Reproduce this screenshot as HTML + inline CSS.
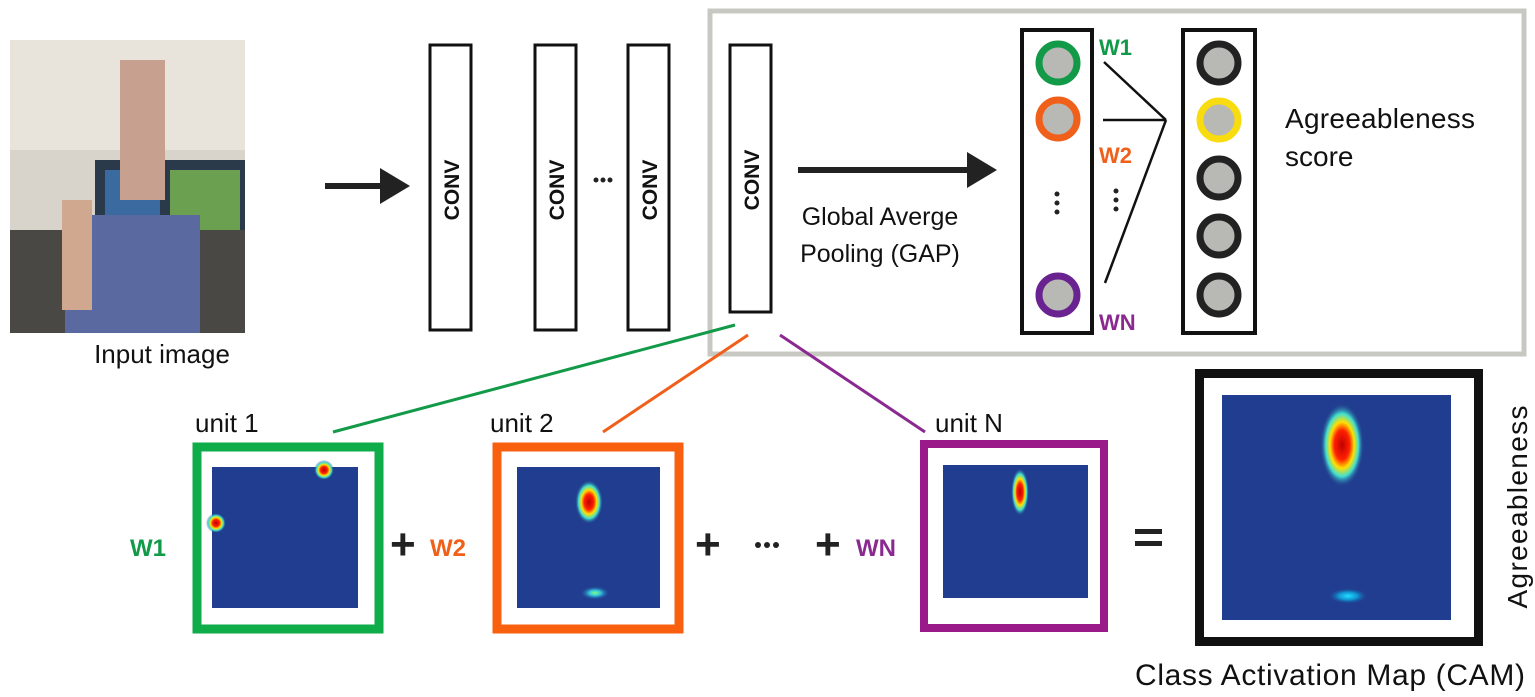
<!DOCTYPE html>
<html><head><meta charset="utf-8"><style>body{margin:0;background:#fff}svg{display:block}text{font-family:"Liberation Sans",sans-serif}</style></head><body>
<svg width="1535" height="697" viewBox="0 0 1535 697" xmlns="http://www.w3.org/2000/svg">
<defs>
<radialGradient id="hot"><stop offset="0" stop-color="#c00000"/><stop offset="0.35" stop-color="#ff2000"/><stop offset="0.55" stop-color="#ffe000"/><stop offset="0.75" stop-color="#40e0d0"/><stop offset="1" stop-color="#213d8f" stop-opacity="0"/></radialGradient>
<radialGradient id="cool"><stop offset="0" stop-color="#80ff80"/><stop offset="0.4" stop-color="#30c0e0"/><stop offset="1" stop-color="#213d8f" stop-opacity="0"/></radialGradient>
<radialGradient id="cyan"><stop offset="0" stop-color="#20e0ff"/><stop offset="0.5" stop-color="#1090d0"/><stop offset="1" stop-color="#213d8f" stop-opacity="0"/></radialGradient>
<marker id="ah" markerWidth="6" markerHeight="6" refX="3" refY="3" orient="auto" markerUnits="strokeWidth"><path d="M0,0 L5,3 L0,6z" fill="#222"/></marker>
</defs>
<!-- photo -->
<rect x="10" y="40" width="235" height="293" fill="#d8d4cc"/>
<rect x="10" y="40" width="235" height="110" fill="#e8e4dc"/>
<rect x="95" y="160" width="150" height="80" fill="#2a3a4a"/>
<rect x="170" y="170" width="70" height="60" fill="#6aa050"/>
<rect x="105" y="170" width="55" height="55" fill="#3a6aa0"/>
<rect x="10" y="230" width="235" height="103" fill="#4a4844"/>
<rect x="65" y="215" width="135" height="118" fill="#5a6aa0"/>
<rect x="120" y="60" width="45" height="140" fill="#c8a090"/>
<rect x="62" y="200" width="30" height="110" fill="#d0a890"/>
<text x="162" y="363" font-size="26" text-anchor="middle" fill="#111">Input image</text>
<line x1="325" y1="186" x2="398" y2="186" stroke="#222" stroke-width="6" marker-end="url(#ah)"/>
<!-- conv -->
<g fill="none" stroke="#111" stroke-width="3">
<rect x="430" y="45" width="41" height="285"/><rect x="535" y="45" width="41" height="285"/><rect x="628" y="45" width="41" height="285"/><rect x="730" y="45" width="41" height="267"/>
</g>
<g font-size="21" style="font-weight:700" fill="#111" text-anchor="middle">
<text transform="translate(459,190) rotate(-90)">CONV</text>
<text transform="translate(564,190) rotate(-90)">CONV</text>
<text transform="translate(657,190) rotate(-90)">CONV</text>
<text transform="translate(759,180) rotate(-90)">CONV</text>
</g>
<g fill="#222"><circle cx="596" cy="180" r="2.5"/><circle cx="603" cy="180" r="2.5"/><circle cx="610" cy="180" r="2.5"/></g>
<!-- gray box -->
<rect x="710" y="11" width="814" height="343" fill="none" stroke="#c8c8c2" stroke-width="5"/>
<line x1="798" y1="170" x2="985" y2="170" stroke="#222" stroke-width="6" marker-end="url(#ah)"/>
<text x="880" y="225" font-size="25" text-anchor="middle" fill="#111">Global Averge</text>
<text x="880" y="262" font-size="25" text-anchor="middle" fill="#111">Pooling (GAP)</text>
<rect x="1022" y="30" width="70" height="303" fill="none" stroke="#111" stroke-width="4"/>
<rect x="1183" y="30" width="72" height="303" fill="none" stroke="#111" stroke-width="4"/>
<g stroke-width="7" fill="#b8b8b4">
<circle cx="1058" cy="63" r="19" stroke="#129a48"/><circle cx="1058" cy="119" r="19" stroke="#f0601a"/><circle cx="1058" cy="295" r="19" stroke="#6a2290"/>
<circle cx="1219" cy="63" r="19" stroke="#222"/><circle cx="1219" cy="120" r="19" stroke="#f8dc10"/><circle cx="1219" cy="178" r="19" stroke="#222"/><circle cx="1219" cy="236" r="19" stroke="#222"/><circle cx="1219" cy="295" r="19" stroke="#222"/>
</g>
<g fill="#222"><circle cx="1057" cy="194" r="2.5"/><circle cx="1057" cy="203" r="2.5"/><circle cx="1057" cy="212" r="2.5"/><circle cx="1116" cy="191" r="2.5"/><circle cx="1116" cy="200" r="2.5"/><circle cx="1116" cy="209" r="2.5"/></g>
<g stroke="#111" stroke-width="2.5"><line x1="1104" y1="62" x2="1166" y2="120"/><line x1="1103" y1="120" x2="1166" y2="120"/><line x1="1105" y1="283" x2="1166" y2="120"/></g>
<g font-size="22" style="font-weight:700"><text x="1099" y="55" fill="#129a48">W1</text><text x="1099" y="163" fill="#f0601a">W2</text><text x="1099" y="330" fill="#8a2a90">WN</text></g>
<text x="1285" y="128" font-size="28" fill="#111" textLength="190">Agreeableness</text>
<text x="1285" y="166" font-size="28" fill="#111">score</text>
<!-- connectors -->
<line x1="735" y1="325" x2="333" y2="432" stroke="#129a48" stroke-width="3"/>
<line x1="748" y1="335" x2="603" y2="432" stroke="#f0601a" stroke-width="3"/>
<line x1="780" y1="335" x2="925" y2="432" stroke="#8a2a90" stroke-width="3"/>
<!-- units -->
<g font-size="26" fill="#111"><text x="195" y="432">unit 1</text><text x="490" y="432">unit 2</text><text x="935" y="432">unit N</text></g>
<rect x="197" y="447" width="182" height="182" fill="none" stroke="#0ead4a" stroke-width="9"/>
<rect x="212" y="467" width="146" height="141" fill="#213d8f"/>
<circle cx="324" cy="470" r="10" fill="url(#hot)"/><circle cx="216" cy="523" r="10" fill="url(#hot)"/>
<rect x="497" y="447" width="182" height="182" fill="none" stroke="#f86010" stroke-width="9"/>
<rect x="517" y="467" width="143" height="141" fill="#213d8f"/>
<ellipse cx="589" cy="502" rx="14" ry="22" fill="url(#hot)"/><ellipse cx="595" cy="593" rx="15" ry="7" fill="url(#cool)"/>
<rect x="924" y="444" width="180" height="184" fill="none" stroke="#9a1a8a" stroke-width="8"/>
<rect x="943" y="465" width="145" height="133" fill="#213d8f"/>
<ellipse cx="1020" cy="492" rx="9" ry="24" fill="url(#hot)"/>
<!-- CAM -->
<rect x="1199.5" y="373.5" width="279" height="268" fill="none" stroke="#111" stroke-width="9"/>
<rect x="1222" y="395" width="229" height="225" fill="#213d8f"/>
<ellipse cx="1342" cy="445" rx="22" ry="42" fill="url(#hot)"/><ellipse cx="1348" cy="596" rx="20" ry="8" fill="url(#cyan)"/>
<g style="font-weight:700" fill="#222">
<text x="130" y="556" fill="#129a48" font-size="24">W1</text>
<text x="390" y="559" font-size="44">+</text>
<text x="430" y="556" fill="#f0601a" font-size="24">W2</text>
<text x="695" y="559" font-size="44">+</text>
<text x="815" y="559" font-size="44">+</text>
<text x="856" y="556" fill="#8a2a90" font-size="24">WN</text>
</g>
<g fill="#222"><circle cx="758" cy="545" r="3"/><circle cx="767" cy="545" r="3"/><circle cx="776" cy="545" r="3"/></g>
<rect x="1135" y="529" width="27" height="5" fill="#222"/><rect x="1135" y="541" width="27" height="5" fill="#222"/>
<text transform="translate(1527,507) rotate(-90)" font-size="28" text-anchor="middle" fill="#111" textLength="203">Agreeableness</text>
<text x="1135" y="685" font-size="30" fill="#111" textLength="390">Class Activation Map (CAM)</text>
</svg>
</body></html>
